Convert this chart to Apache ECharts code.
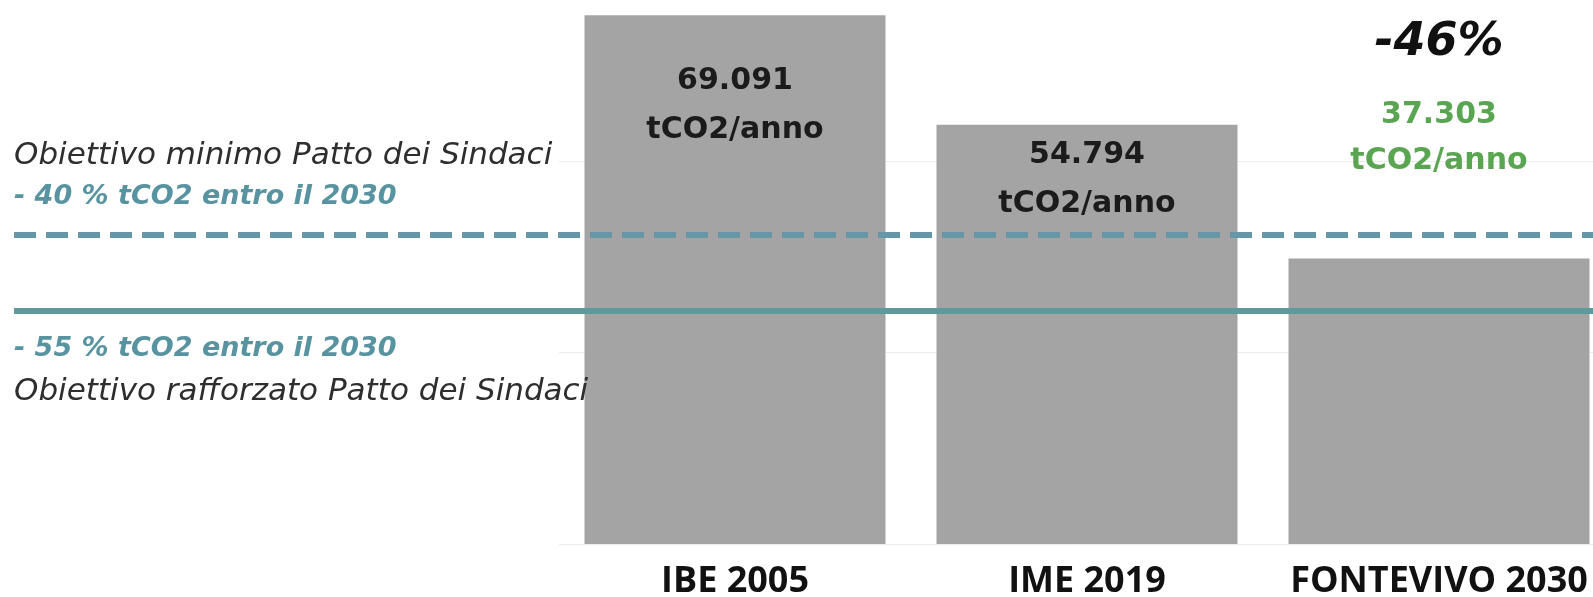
<!DOCTYPE html>
<html>
<head>
<meta charset="utf-8">
<script src="https://cdn.jsdelivr.net/npm/echarts@6/dist/echarts.min.js"></script>
<style>
  html, body { margin: 0; padding: 0; background: #ffffff; }
  #chart { width: 1593px; height: 597px; }
</style>
</head>
<body>
<div id="chart"></div>
<script>
// ---- Data ----
const categories = ['IBE 2005', 'IME 2019', 'FONTEVIVO 2030'];
const emissions = [69091, 54794, 37303];
const valueLabels = ['69.091', '54.794', '37.303'];
const unitLabel = 'tCO2/anno';
const reductionLabel = '-46%';
const targetMinimo = 40400;      // dashed line (-40 %)
const targetRafforzato = 30500;  // solid line (-55 %)
const textMinimo = ['Obiettivo minimo Patto dei Sindaci', '- 40 % tCO2 entro il 2030'];
const textRafforzato = ['- 55 % tCO2 entro il 2030', 'Obiettivo rafforzato Patto dei Sindaci'];
const yMin = 0, yMax = 75000, yInterval = 25000;

// ---- Styles ----
const barColor = '#a4a4a4';
const dashColor = '#6797a6';
const solidColor = '#5e9a9c';
const tealText = '#5893a0';
const greenText = '#5aa552';
const labelFont = 'DejaVu Sans';
const insideDistance = [41, 6];

const chart = echarts.init(document.getElementById('chart'), null, { renderer: 'canvas' });

const barData = emissions.map((v, i) => {
  if (i === emissions.length - 1) {
    return {
      value: v,
      label: {
        show: true,
        position: 'top',
        distance: 74,
        formatter: '{p|' + reductionLabel + '}\n{g|' + valueLabels[i] + '}\n{g|' + unitLabel + '}',
        rich: {
          p: { fontFamily: labelFont, fontSize: 46, fontWeight: 'bold', fontStyle: 'italic', color: '#111111', lineHeight: 98, align: 'center' },
          g: { fontFamily: labelFont, fontSize: 30, fontWeight: 'bold', color: greenText, lineHeight: 46, align: 'center' }
        }
      }
    };
  }
  return {
    value: v,
    label: {
      show: true,
      position: 'insideTop',
      distance: insideDistance[i],
      formatter: '{v|' + valueLabels[i] + '}\n{u|' + unitLabel + '}',
      rich: {
        v: { fontFamily: labelFont, fontSize: 30, fontWeight: 'bold', color: '#1b1b1b', lineHeight: 49, align: 'center' },
        u: { fontFamily: labelFont, fontSize: 30, fontWeight: 'bold', color: '#1b1b1b', lineHeight: 49, align: 'center' }
      }
    }
  };
});

const option = {
  backgroundColor: '#ffffff',
  animation: false,
  grid: { left: 559, right: -22, top: -30, bottom: 53, containLabel: false, outerBoundsMode: 'none' },
  xAxis: {
    type: 'category',
    data: categories,
    axisLine: { show: false },
    axisTick: { show: false },
    axisLabel: {
      interval: 0,
      margin: 20,
      fontFamily: 'Open Sans',
      fontWeight: 'bold',
      fontSize: 36,
      color: '#111111'
    },
    splitLine: { show: false }
  },
  yAxis: {
    type: 'value',
    min: yMin,
    max: yMax,
    interval: yInterval,
    axisLine: { show: false },
    axisTick: { show: false },
    axisLabel: { show: false },
    splitLine: { show: true, showMaxLine: false, lineStyle: { color: '#ebebeb', width: 1 } }
  },
  series: [{
    type: 'bar',
    data: barData,
    barWidth: 301,
    clip: false,
    itemStyle: { color: barColor },
    markLine: {
      silent: true,
      symbol: ['none', 'none'],
      animation: false,
      data: [
        [
          {
            x: 14, yAxis: targetMinimo,
            lineStyle: { color: dashColor, width: 6, type: [22, 10] },
            label: {
              show: true,
              position: 'insideStartTop',
              distance: [0, 17],
              formatter: '{a|' + textMinimo[0] + '}\n{b|' + textMinimo[1] + '}',
              rich: {
                a: { fontFamily: labelFont, fontStyle: 'italic', fontSize: 31, color: '#2e2e2e', lineHeight: 41 },
                b: { fontFamily: labelFont, fontStyle: 'italic', fontWeight: 'bold', fontSize: 27, color: tealText, lineHeight: 41 }
              }
            }
          },
          { x: 1593, yAxis: targetMinimo }
        ],
        [
          {
            x: 14, yAxis: targetRafforzato,
            lineStyle: { color: solidColor, width: 6, type: 'solid' },
            label: {
              show: true,
              position: 'insideStartBottom',
              distance: [0, 16],
              formatter: '{b|' + textRafforzato[0] + '}\n{a|' + textRafforzato[1] + '}',
              rich: {
                a: { fontFamily: labelFont, fontStyle: 'italic', fontSize: 31, color: '#2e2e2e', lineHeight: 42 },
                b: { fontFamily: labelFont, fontStyle: 'italic', fontWeight: 'bold', fontSize: 27, color: tealText, lineHeight: 44 }
              }
            }
          },
          { x: 1593, yAxis: targetRafforzato }
        ]
      ]
    }
  }]
};

chart.setOption(option);
</script>
</body>
</html>
